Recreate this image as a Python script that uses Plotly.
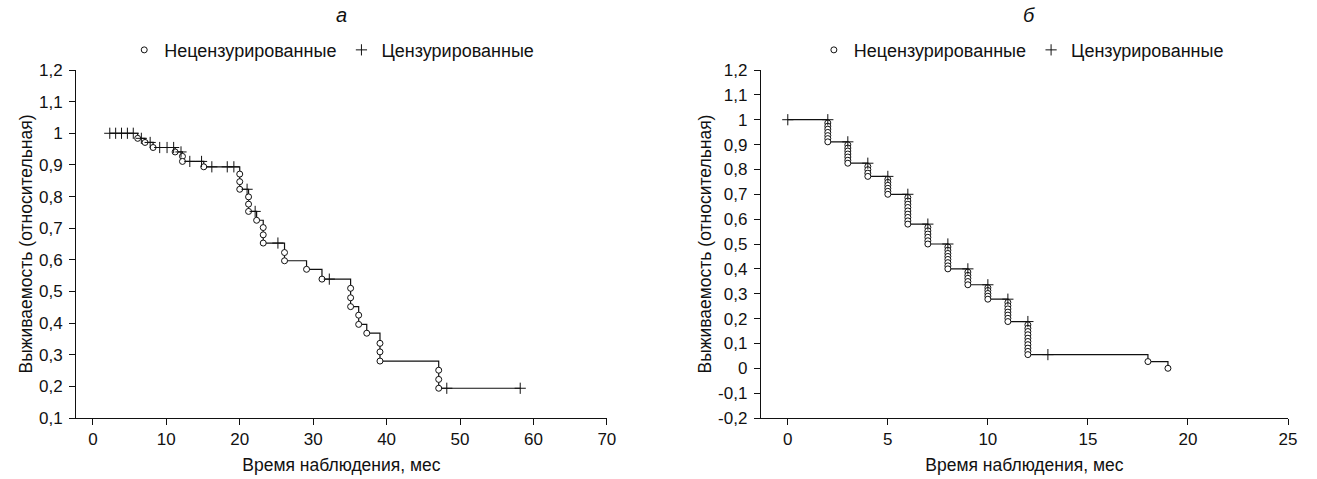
import plotly.graph_objects as go

# ---------------- Panel "а" ----------------
a_event_t = [6.1, 7.1, 8.2, 11.2, 12.2, 12.2, 15.1, 20.0, 20.0, 20.0, 21.2, 21.2, 21.2,
             22.3, 23.2, 23.2, 23.2, 26.1, 26.1, 29.1, 31.2, 35.1, 35.1, 35.1, 36.2, 36.2,
             37.3, 39.1, 39.1, 39.1, 47.1, 47.1, 47.1]
a_event_s = [0.984, 0.971, 0.955, 0.941, 0.927, 0.911, 0.894, 0.871, 0.847, 0.823, 0.799, 0.776, 0.753,
             0.725, 0.702, 0.679, 0.653, 0.623, 0.597, 0.570, 0.539, 0.510, 0.480, 0.452, 0.425, 0.396,
             0.368, 0.336, 0.309, 0.280, 0.251, 0.222, 0.194]
a_cens_t = [2.3, 3.1, 3.9, 4.7, 5.5, 6.6, 7.8, 9.1, 10.1, 11.0, 12.0, 13.2, 14.8, 16.2, 18.3, 19.2,
            21.0, 22.1, 25.2, 32.2, 48.2, 58.2]
a_cens_s = [1.0, 1.0, 1.0, 1.0, 1.0, 0.984, 0.971, 0.955, 0.955, 0.955, 0.941, 0.911, 0.911, 0.894, 0.894, 0.894,
            0.823, 0.753, 0.653, 0.539, 0.194, 0.194]

# ---------------- Panel "б" ----------------
b_event_t = ([2] * 7 + [3] * 7 + [4] * 4 + [5] * 6 + [6] * 9 + [7] * 6 + [8] * 8 + [9] * 5 +
             [10] * 5 + [11] * 7 + [12] * 10 + [18, 19])
b_event_s = [0.987, 0.974, 0.962, 0.949, 0.936, 0.924, 0.911,
             0.899, 0.886, 0.874, 0.862, 0.850, 0.837, 0.825,
             0.812, 0.799, 0.785, 0.772,
             0.760, 0.748, 0.736, 0.724, 0.712, 0.700,
             0.687, 0.673, 0.660, 0.647, 0.633, 0.620, 0.607, 0.593, 0.580,
             0.567, 0.553, 0.540, 0.527, 0.513, 0.500,
             0.488, 0.475, 0.462, 0.450, 0.438, 0.425, 0.412, 0.400,
             0.387, 0.374, 0.362, 0.349, 0.336,
             0.324, 0.313, 0.301, 0.290, 0.278,
             0.265, 0.252, 0.239, 0.226, 0.214, 0.201, 0.188,
             0.175, 0.161, 0.148, 0.135, 0.121, 0.108, 0.095, 0.081, 0.068, 0.055,
             0.027, 0.0]
b_cens_t = [0, 2, 3, 4, 5, 6, 7, 8, 9, 10, 11, 12, 13]
b_cens_s = [1.0, 1.0, 0.911, 0.825, 0.772, 0.700, 0.580, 0.500, 0.400, 0.336, 0.278, 0.188, 0.055]

a_yticks = [0.1, 0.2, 0.3, 0.4, 0.5, 0.6, 0.7, 0.8, 0.9, 1.0, 1.1, 1.2]
b_yticks = [-0.2, -0.1, 0.0, 0.1, 0.2, 0.3, 0.4, 0.5, 0.6, 0.7, 0.8, 0.9, 1.0, 1.1, 1.2]
a_xticks = [0, 10, 20, 30, 40, 50, 60, 70]
b_xticks = [0, 5, 10, 15, 20, 25]

LEG_UNC = "Нецензурированные"
LEG_CEN = "Цензурированные"
XTITLE = "Время наблюдения, мес"
YTITLE = "Выживаемость (относительная)"


def fmt(v):
    s = ("%g" % round(v, 1)).replace(".", ",")
    return "0" if s == "-0" else s


def km_line(ev_t, ev_s, start_t, start_s, end_t):
    xs, ys = [start_t], [start_s]
    for t, s in zip(ev_t, ev_s):
        if xs[-1] == t:
            ys[-1] = min(ys[-1], s)
        else:
            xs.append(t)
            ys.append(s)
    if end_t > xs[-1]:
        xs.append(end_t)
        ys.append(ys[-1])
    return xs, ys


FONT = "Liberation Sans, Arial, sans-serif"
INK = "#111111"
FS = 17
FT = 17.5
FL = 18

fig = go.Figure()

panels = [
    (a_event_t, a_event_s, a_cens_t, a_cens_s, "x", "y", "legend", 6, a_cens_t[0], 1.0, a_cens_t[-1]),
    (b_event_t, b_event_s, b_cens_t, b_cens_s, "x2", "y2", "legend2", 6, 0, 1.0, b_event_t[-1]),
]
for ev_t, ev_s, ce_t, ce_s, xa, ya, leg, msize, st, ss, et in panels:
    lx, ly = km_line(ev_t, ev_s, st, ss, et)
    fig.add_trace(go.Scatter(x=lx, y=ly, mode="lines", line=dict(shape="hv", color=INK, width=1.2),
                             xaxis=xa, yaxis=ya, showlegend=False, hoverinfo="skip"))
    fig.add_trace(go.Scatter(x=ev_t, y=ev_s, mode="markers", name=LEG_UNC, legend=leg,
                             marker=dict(symbol="circle", size=msize, color="white",
                                         line=dict(color=INK, width=1)),
                             xaxis=xa, yaxis=ya))
    fig.add_trace(go.Scatter(x=ce_t, y=ce_s, mode="markers", name=LEG_CEN, legend=leg,
                             marker=dict(symbol="cross-thin-open", size=8, color=INK,
                                         line=dict(color=INK, width=1)),
                             xaxis=xa, yaxis=ya))

axis_common = dict(showline=True, linecolor=INK, linewidth=1, ticks="outside", ticklen=6,
                   tickcolor=INK, showgrid=False, zeroline=False, automargin=False,
                   tickfont=dict(size=FS, color=INK, family=FONT))

fig.update_layout(
    width=1317, height=479,
    margin=dict(l=76, r=29, t=70, b=61, autoexpand=False),
    paper_bgcolor="white", plot_bgcolor="white",
    font=dict(family=FONT, color=INK, size=FS),
    xaxis=dict(domain=[0, 0.438], range=[-2.3, 70], tickvals=a_xticks,
               title=dict(text=XTITLE, font=dict(size=FT), standoff=10), anchor="y", **axis_common),
    yaxis=dict(range=[0.1, 1.2], tickvals=a_yticks, ticktext=[fmt(v) for v in a_yticks],
               ticklabelstandoff=3,
               title=dict(text=YTITLE, font=dict(size=FT), standoff=1), anchor="x", **axis_common),
    xaxis2=dict(domain=[0.565, 1], range=[-1.35, 25], tickvals=b_xticks,
                title=dict(text=XTITLE, font=dict(size=FT), standoff=10), anchor="y2", **axis_common),
    yaxis2=dict(range=[-0.2, 1.2], tickvals=b_yticks, ticktext=[fmt(v) for v in b_yticks],
                ticklabelstandoff=3,
                title=dict(text=YTITLE, font=dict(size=FT), standoff=1), anchor="x2", **axis_common),
    legend=dict(orientation="h", x=0.211, xanchor="center", y=1.057, yanchor="middle",
                font=dict(size=FL, family=FONT, color=INK), itemwidth=30, bgcolor="rgba(0,0,0,0)"),
    legend2=dict(orientation="h", x=0.78, xanchor="center", y=1.057, yanchor="middle",
                 font=dict(size=FL, family=FONT, color=INK), itemwidth=30, bgcolor="rgba(0,0,0,0)"),
    annotations=[
        dict(text="<i>а</i>", x=0.219, y=1.158, xref="paper", yref="paper", showarrow=False,
             font=dict(size=20, family=FONT, color=INK), xanchor="center", yanchor="middle"),
        dict(text="<i>б</i>", x=0.786, y=1.158, xref="paper", yref="paper", showarrow=False,
             font=dict(size=20, family=FONT, color=INK), xanchor="center", yanchor="middle"),
    ],
)

fig.write_html("out.html", config={"displayModeBar": False},
               post_script="document.body.style.margin='0';")
